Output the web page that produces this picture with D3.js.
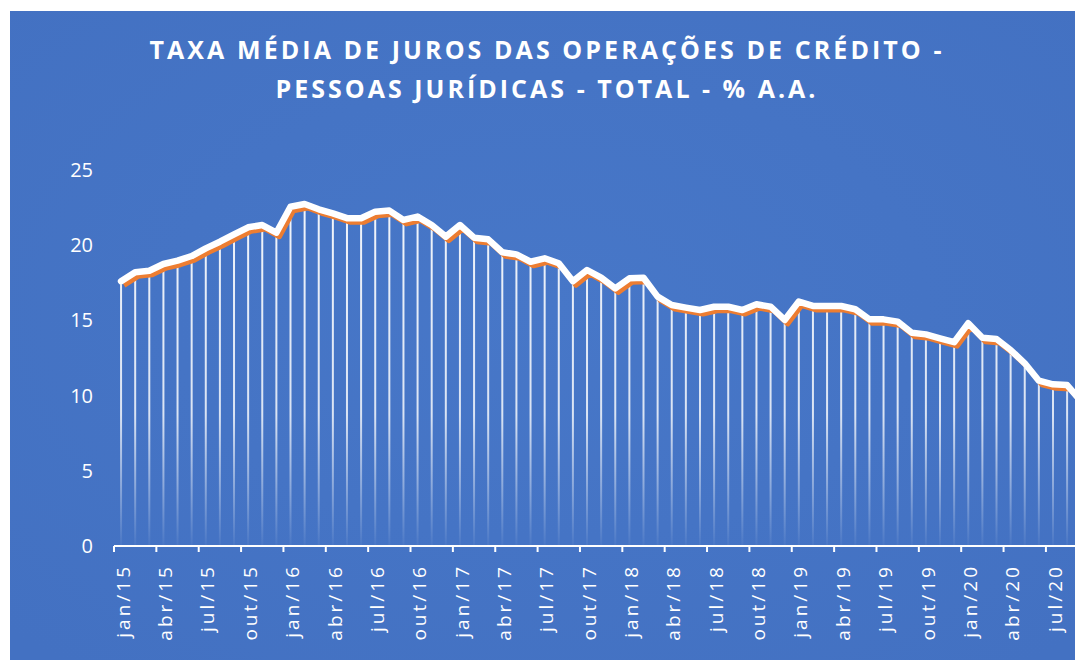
<!DOCTYPE html>
<html>
<head>
<meta charset="utf-8">
<script src="https://cdn.jsdelivr.net/npm/d3@7"></script>
<style>
  body { margin: 0; background: #fff; }
  svg { display: block; }
</style>
</head>
<body>
<div id="chart"></div>
<script>
// Data
const monthNames = ["jan", "fev", "mar", "abr", "mai", "jun", "jul", "ago", "set", "out", "nov", "dez"];
const years = ["15", "16", "17", "18", "19", "20"];
const rates = [
  17.6, 18.2, 18.3, 18.75, 18.97, 19.28, 19.79, 20.23, 20.72, 21.19, 21.34, 20.83,
  22.56, 22.74, 22.39, 22.12, 21.8, 21.79, 22.23, 22.3, 21.68, 21.9, 21.34, 20.57,
  21.34, 20.5, 20.39, 19.53, 19.39, 18.9, 19.13, 18.8, 17.6, 18.35, 17.84, 17.13,
  17.8, 17.84, 16.58, 16.02, 15.85, 15.69, 15.91, 15.91, 15.69, 16.07, 15.91, 15.03,
  16.25, 15.96, 15.96, 15.96, 15.74, 15.07, 15.07, 14.92, 14.18, 14.07, 13.81, 13.55,
  14.81, 13.85, 13.76, 13.03, 12.15, 10.99, 10.75, 10.7, 9.6
];
const yTicks = [0, 5, 10, 15, 20, 25];
const titleLines = ["TAXA MÉDIA DE JUROS DAS OPERAÇÕES DE CRÉDITO -", "PESSOAS JURÍDICAS - TOTAL - % A.A."];

const months = [];
years.forEach(y => monthNames.forEach(m => months.push(m + "/" + y)));
const data = rates.map((v, i) => ({month: months[i], value: v}));

// Set dimensions
const width = 1075,
    height = 660;
const step = 14.12;

const svg = d3.select("#chart")
  .append("svg")
  .attr("width", width)
  .attr("height", height);

const defs = svg.append("defs");

// background gradient
const bg = defs.append("radialGradient")
  .attr("id", "bgGrad")
  .attr("cx", "50%").attr("cy", "45%").attr("r", "70%");
bg.append("stop").attr("offset", "0%").attr("stop-color", "#4777c8");
bg.append("stop").attr("offset", "100%").attr("stop-color", "#4371c2");

// drop line gradient
const dropGrad = defs.append("linearGradient")
  .attr("id", "dropGrad")
  .attr("gradientUnits", "userSpaceOnUse")
  .attr("x1", 0).attr("x2", 0)
  .attr("y1", 170).attr("y2", 546);
dropGrad.append("stop").attr("offset", "0%").attr("stop-color", "#fff").attr("stop-opacity", 0.95);
dropGrad.append("stop").attr("offset", "65%").attr("stop-color", "#fff").attr("stop-opacity", 0.8);
dropGrad.append("stop").attr("offset", "100%").attr("stop-color", "#fff").attr("stop-opacity", 0.03);

svg.append("rect")
  .attr("x", 10)
  .attr("y", 11)
  .attr("width", width)
  .attr("height", height)
  .attr("fill", "url(#bgGrad)");

// Title
const title = svg.append("g");
titleLines.forEach((t, i) => {
  const txt = title.append("text")
    .attr("x", 547)
    .attr("y", 59 + i * 39)
    .attr("text-anchor", "middle")
    .attr("fill", "#fff")
    .style("font-family", "'Open Sans', sans-serif")
    .style("font-weight", "bold")
    .style("font-size", "25px")
    .text(t);
  // spread letters to match the original width
  const target = i === 0 ? 792 : 540;
  const natural = txt.node().getComputedTextLength();
  const ls = (target - natural) / (t.length - 1);
  txt.style("letter-spacing", ls + "px");
});

// Scales
const x = d3.scaleBand()
  .domain(months.slice(0, data.length))
  .range([114, 114 + step * data.length])
  .padding(0);

const y = d3.scaleLinear()
  .domain([0, 25])
  .range([546, 170]);

// Y labels
svg.append("g")
  .selectAll("text")
  .data(yTicks)
  .enter()
  .append("text")
  .attr("x", 93)
  .attr("y", d => y(d))
  .attr("dy", "0.35em")
  .attr("text-anchor", "end")
  .attr("fill", "#fff")
  .style("font-family", "'Open Sans', sans-serif")
  .style("font-size", "20px")
  .text(d => d);

// Drop lines
svg.append("g")
  .selectAll("line")
  .data(data)
  .enter()
  .append("line")
  .attr("x1", d => x(d.month) + x.bandwidth() / 2)
  .attr("x2", d => x(d.month) + x.bandwidth() / 2)
  .attr("y1", d => y(d.value) + 3)
  .attr("y2", y(0))
  .attr("stroke", "url(#dropGrad)")
  .attr("stroke-width", 2);

// X axis
const tickMonths = months.filter((m, i) => i % 3 === 0 && i < data.length);
const xAxis = svg.append("g");
xAxis.append("line")
  .attr("x1", x(months[0]))
  .attr("x2", x(months[data.length - 1]) + x.bandwidth())
  .attr("y1", y(0))
  .attr("y2", y(0))
  .attr("stroke", "#fff")
  .attr("stroke-width", 2);

xAxis.selectAll(".tick")
  .data(tickMonths)
  .enter()
  .append("line")
  .attr("class", "tick")
  .attr("x1", d => x(d))
  .attr("x2", d => x(d))
  .attr("y1", y(0))
  .attr("y2", y(0) + 6)
  .attr("stroke", "#fff")
  .attr("stroke-width", 2);

xAxis.selectAll(".label")
  .data(tickMonths)
  .enter()
  .append("text")
  .attr("class", "label")
  .attr("transform", d => `translate(${x(d) + x.bandwidth() / 2 + 2}, 564) rotate(-90)`)
  .attr("dy", "0.35em")
  .attr("text-anchor", "end")
  .attr("fill", "#fff")
  .style("font-family", "'Open Sans', sans-serif")
  .style("font-size", "19px")
  .style("letter-spacing", "3px")
  .text(d => d);

// Lines
const line = d3.line()
  .x(d => x(d.month) + x.bandwidth() / 2)
  .y(d => y(d.value));

svg.append("path")
  .datum(data)
  .attr("d", line)
  .attr("transform", "translate(3,4)")
  .attr("fill", "none")
  .attr("stroke", "#ed7d31")
  .attr("stroke-width", 5)
  .attr("stroke-linejoin", "round");

svg.append("path")
  .datum(data)
  .attr("d", line)
  .attr("fill", "none")
  .attr("stroke", "#fff")
  .attr("stroke-width", 6.5)
  .attr("stroke-linejoin", "round")
  .attr("stroke-linecap", "round");
</script>
</body>
</html>
